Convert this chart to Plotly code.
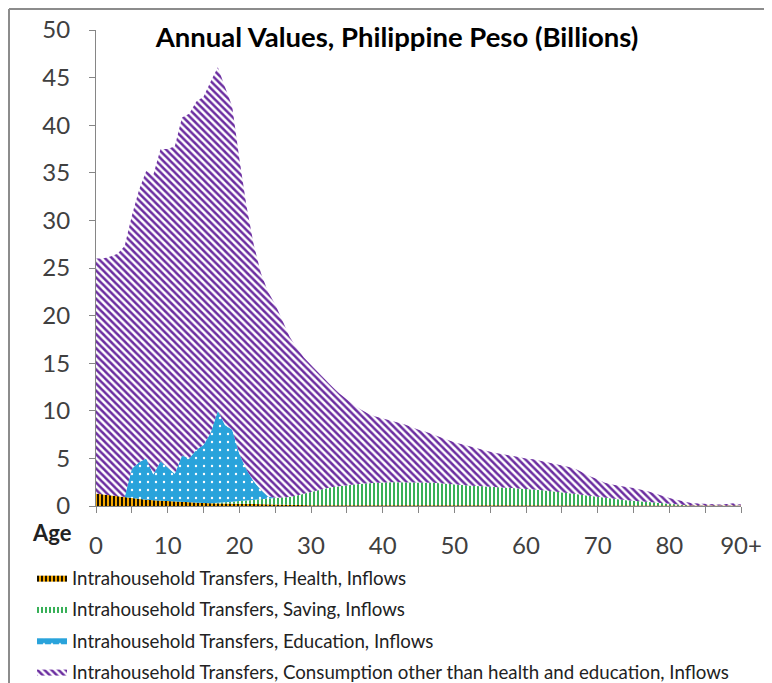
import plotly.graph_objects as go

ages = list(range(0, 91))

health = [1.3, 1.2, 1.1, 1.0, 0.9, 0.8, 0.72, 0.65, 0.6, 0.55,
          0.5, 0.46, 0.42, 0.38, 0.35, 0.32, 0.3, 0.28, 0.26, 0.24,
          0.22, 0.2, 0.18, 0.16, 0.15, 0.14, 0.13, 0.12, 0.11, 0.1,
          0.09, 0.08, 0.08, 0.07, 0.07, 0.06, 0.05, 0.05, 0.05, 0.05,
          0.05, 0.05, 0.05, 0.05, 0.05, 0.05, 0.05, 0.05, 0.05, 0.05,
          0.05, 0.05, 0.05, 0.05, 0.05, 0.05, 0.05, 0.05, 0.05, 0.05,
          0.05, 0.05, 0.05, 0.05, 0.05, 0.05, 0.05, 0.05, 0.05, 0.05,
          0.05, 0.05, 0.05, 0.05, 0.05, 0.05, 0.05, 0.05, 0.05, 0.05,
          0.05, 0.05, 0.05, 0.05, 0.05, 0.05, 0.05, 0.05, 0.05, 0.05,
          0.05]

saving = [0, 0, 0, 0, 0, 0, 0, 0, 0, 0,
          0, 0, 0, 0, 0, 0, 0, 0.05, 0.1, 0.2,
          0.3, 0.4, 0.5, 0.58, 0.65, 0.7, 0.75, 0.83, 0.99, 1.2,
          1.4, 1.6, 1.77, 1.93, 2.03, 2.14, 2.25, 2.3, 2.35, 2.4,
          2.45, 2.45, 2.45, 2.45, 2.45, 2.45, 2.42, 2.4, 2.35, 2.28,
          2.22, 2.16, 2.1, 2.06, 2.02, 1.98, 1.94, 1.9, 1.85, 1.8,
          1.75, 1.7, 1.64, 1.56, 1.49, 1.4, 1.3, 1.2, 1.1, 1.0,
          0.9, 0.8, 0.7, 0.62, 0.55, 0.5, 0.44, 0.38, 0.3, 0.22,
          0.15, 0.1, 0.05, 0, 0, 0, 0, 0, 0, 0,
          0]

education = [0, 0, 0, 0, 0.05, 3.1, 3.88, 4.35, 2.7, 4.15,
             3.5, 2.94, 4.88, 4.62, 5.55, 6.08, 7.4, 9.67, 8.14, 7.56,
             4.98, 3.2, 1.92, 0.96, 0.2, 0.02, 0, 0, 0, 0,
             0, 0, 0, 0, 0, 0, 0, 0, 0, 0,
             0, 0, 0, 0, 0, 0, 0, 0, 0, 0,
             0, 0, 0, 0, 0, 0, 0, 0, 0, 0,
             0, 0, 0, 0, 0, 0, 0, 0, 0, 0,
             0, 0, 0, 0, 0, 0, 0, 0, 0, 0,
             0, 0, 0, 0, 0, 0, 0, 0, 0, 0,
             0]

consumption = [24.7, 24.8, 25.1, 25.5, 26.35, 26.6, 28.6, 30.2, 31.5, 32.8,
               33.5, 34.4, 35.5, 36.2, 36.6, 36.6, 36.9, 36.1, 35.5, 34.0,
               31.0, 27.7, 24.9, 22.8, 21.5, 20.34, 18.62, 16.85, 15.5, 14.3,
               13.31, 12.32, 11.35, 10.5, 9.7, 9.0, 8.3, 7.75, 7.3, 6.95,
               6.7, 6.5, 6.3, 6.1, 5.8, 5.5, 5.33, 5.05, 4.8, 4.62,
               4.43, 4.29, 4.1, 3.94, 3.83, 3.67, 3.56, 3.45, 3.35, 3.3,
               3.2, 3.15, 3.06, 2.99, 2.91, 2.85, 2.75, 2.6, 2.3, 2.05,
               1.85, 1.6, 1.5, 1.43, 1.4, 1.35, 1.26, 1.12, 0.95, 0.78,
               0.65, 0.5, 0.35, 0.27, 0.2, 0.15, 0.12, 0.1, 0.15, 0.25,
               0.1]

tick_vals = [0, 10, 20, 30, 40, 50, 60, 70, 80, 90]
tick_text = ["0", "10", "20", "30", "40", "50", "60", "70", "80", "90+"]

names = ["Intrahousehold Transfers, Health, Inflows",
         "Intrahousehold Transfers, Saving, Inflows",
         "Intrahousehold Transfers, Education, Inflows",
         "Intrahousehold Transfers, Consumption other than health and education, Inflows"]

FONT = "Lato"

patterns = [
    dict(shape="|", fgcolor="#000000", bgcolor="#F5A800", size=4, solidity=0.45, fgopacity=1),
    dict(shape="|", fgcolor="#38B058", bgcolor="#FFFFFF", size=4, solidity=0.5, fgopacity=1),
    dict(shape=".", fgcolor="#FFFFFF", bgcolor="#29A3DB", size=8, solidity=0.07, fgopacity=1),
    dict(shape="\\", fgcolor="#6B2DA0", bgcolor="#FFFFFF", size=5, solidity=0.5, fgopacity=1),
]
fills = ["#F5A800", "#38B058", "#29A3DB", "#6B2DA0"]

# page body has an 8px margin: layout coordinates = screen coordinates - 8
W, H = 764, 675
L, R, T, B = 88, 31, 22, 177
PW, PH = W - L - R, H - T - B


def px(xs):
    return (xs - 8 - L) / PW


def py(ys):
    return (H - B - (ys - 8)) / PH


fig = go.Figure()
for i, (series, name) in enumerate(zip([health, saving, education, consumption], names)):
    fig.add_trace(go.Scatter(
        x=ages, y=series, name=name, mode="lines",
        line=dict(width=0, color=fills[i]),
        stackgroup="one", fillcolor=fills[i],
        fillpattern=patterns[i], legendgroup=f"g{i}",
    ))

fig.update_layout(
    width=W, height=H,
    margin=dict(l=L, r=R, t=T, b=B, autoexpand=False),
    paper_bgcolor="white", plot_bgcolor="white",
    font=dict(family=FONT, color="#404040"),
    title=dict(text="<b>Annual Values, Philippine Peso (Billions)</b>",
               x=(397 - 8) / W, xanchor="center", y=1 - (37 - 8) / H, yanchor="middle",
               font=dict(family=FONT, size=27.5, color="#000000")),
    showlegend=True,
    legend=dict(orientation="v", traceorder="grouped", x=px(32), xanchor="left",
                y=py(559), yanchor="top",
                font=dict(family=FONT, size=18.7, color="#222222"),
                tracegroupgap=4, itemwidth=30, bgcolor="rgba(0,0,0,0)"),
    xaxis=dict(range=[0, 90], tickvals=tick_vals, ticktext=tick_text,
               ticks="outside", ticklen=6, tickcolor="#868686",
               showline=True, linecolor="#868686", linewidth=1,
               showgrid=False, zeroline=False,
               tickfont=dict(family=FONT, size=24, color="#404040"),
               ticklabelstandoff=12,
               minor=dict(dtick=5, tick0=0, ticks="outside", ticklen=6, tickcolor="#868686")),
    yaxis=dict(range=[0, 50], dtick=5, tick0=0,
               ticks="outside", ticklen=6, tickcolor="#868686",
               showline=True, linecolor="#868686", linewidth=1,
               showgrid=False, zeroline=False,
               tickfont=dict(family=FONT, size=24, color="#404040"),
               ticklabelstandoff=14),
    shapes=[
        dict(type="line", xref="paper", yref="paper",
             x0=px(9), x1=px(800), y0=py(9), y1=py(9),
             line=dict(color="#8C8C8C", width=2)),
        dict(type="line", xref="paper", yref="paper",
             x0=px(9), x1=px(9), y0=py(9), y1=py(720),
             line=dict(color="#8C8C8C", width=2)),
    ],
    annotations=[
        dict(text="<b>Age</b>", xref="paper", yref="paper",
             x=px(52), y=py(532), xanchor="center", yanchor="middle",
             showarrow=False, font=dict(family=FONT, size=22, color="#222222")),
    ],
)

fig.write_html("out.html")
